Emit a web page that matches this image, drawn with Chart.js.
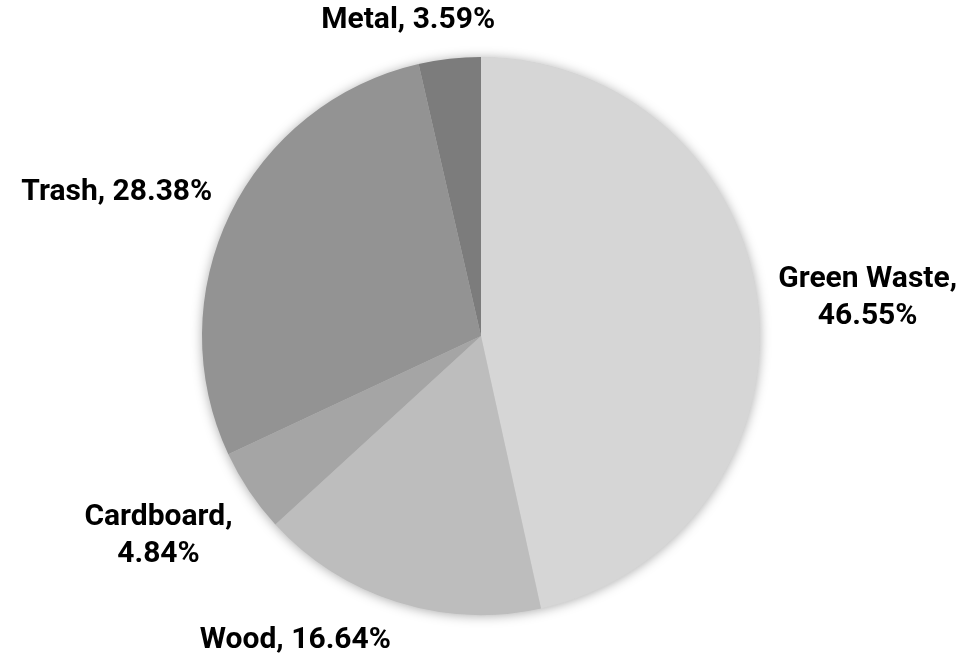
<!DOCTYPE html>
<html>
<head>
<meta charset="utf-8">
<script src="https://cdn.jsdelivr.net/npm/chart.js@4/dist/chart.umd.min.js"></script>
<style>
  body { margin: 0; background: #fff; }
  #wrap { width: 962px; height: 655px; }
</style>
</head>
<body>
<div id="wrap"><canvas id="pieChart" width="962" height="655"></canvas></div>
<script>
const categorias = ['Green Waste', 'Wood', 'Cardboard', 'Trash', 'Metal'];
const porcentajes = [46.55, 16.64, 4.84, 28.38, 3.59];
const colores = ['#d6d6d6', '#bdbdbd', '#a5a5a5', '#939393', '#7c7c7c'];

const fuente = 'bold 30px Roboto, "Liberation Sans", sans-serif';

// sombra suave detras del pastel
const sombra = {
    id: 'sombra',
    beforeDatasetsDraw(chart) {
        const arc = chart.getDatasetMeta(0).data[0];
        if (!arc) return;
        const ctx = chart.ctx;
        ctx.save();
        ctx.shadowColor = 'rgba(0,0,0,0.35)';
        ctx.shadowBlur = 12;
        ctx.shadowOffsetX = 0;
        ctx.shadowOffsetY = 1;
        ctx.fillStyle = '#cccccc';
        ctx.beginPath();
        ctx.arc(arc.x, arc.y, arc.outerRadius - 0.5, 0, Math.PI * 2);
        ctx.fill();
        ctx.restore();
    }
};

// etiquetas afuera del pastel
const etiquetas = {
    id: 'etiquetas',
    afterDatasetsDraw(chart) {
        const ctx = chart.ctx;
        const meta = chart.getDatasetMeta(0);
        ctx.save();
        ctx.font = fuente;
        ctx.fillStyle = '#000';
        ctx.textBaseline = 'top';
        const alto = 37;
        meta.data.forEach((arc, i) => {
            const valor = chart.data.datasets[0].data[i];
            const nombre = chart.data.labels[i];
            let lineas = [nombre + ', ' + valor.toFixed(2) + '%'];
            if (ctx.measureText(lineas[0]).width > 225) {
                lineas = [nombre + ',', valor.toFixed(2) + '%'];
            }
            const ang = (arc.startAngle + arc.endAngle) / 2;
            const r = arc.outerRadius + 20;
            const ax = arc.x + Math.cos(ang) * r;
            const ay = arc.y + Math.sin(ang) * r;
            const w = Math.max(...lineas.map(l => ctx.measureText(l).width));
            const h = lineas.length * alto;
            const fx = Math.min(1, Math.max(0, 0.5 - Math.cos(ang) * 2));
            const fy = Math.min(1, Math.max(0, 0.5 - Math.sin(ang) * 0.8));
            const izq = ax - w * fx;
            const arriba = ay - h * fy;
            ctx.textAlign = 'center';
            lineas.forEach((l, j) => {
                ctx.fillText(l, izq + w / 2, arriba + j * alto + 4);
            });
        });
        ctx.restore();
    }
};

const pieChart = new Chart(document.getElementById('pieChart').getContext('2d'), {
    type: 'pie',
    data: {
        labels: categorias,
        datasets: [{
            data: porcentajes,
            backgroundColor: colores,
            borderWidth: 0
        }]
    },
    options: {
        responsive: false,
        animation: false,
        layout: { padding: { top: 57, bottom: 40, left: 202, right: 202 } },
        plugins: {
            legend: { display: false },
            tooltip: { enabled: false }
        }
    },
    plugins: [sombra, etiquetas]
});
</script>
</body>
</html>
